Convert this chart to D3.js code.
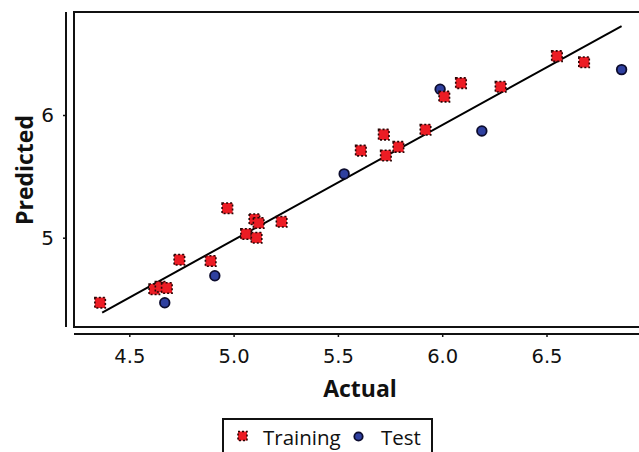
<!DOCTYPE html>
<html>
<head>
<meta charset="utf-8">
<script src="https://cdn.jsdelivr.net/npm/d3@7"></script>
<style>
  body { margin: 0; background: #fff; }
  svg { display: block; font-family: "DejaVu Sans", Verdana, sans-serif; }
</style>
</head>
<body>
<svg width="639" height="452"></svg>
<script>
// training set: actual vs predicted
var trainActual = [4.36, 4.62, 4.65, 4.68, 4.74, 4.89, 4.97, 5.06, 5.10, 5.12, 5.11, 5.23,
                   5.61, 5.72, 5.73, 5.79, 5.92, 6.01, 6.09, 6.28, 6.55, 6.68];
var trainPred   = [4.47, 4.58, 4.60, 4.59, 4.82, 4.81, 5.24, 5.03, 5.15, 5.12, 5.00, 5.13,
                   5.71, 5.84, 5.67, 5.74, 5.88, 6.15, 6.26, 6.23, 6.48, 6.43];
// test set
var testActual = [4.67, 4.91, 5.53, 5.99, 6.19, 6.86];
var testPred   = [4.47, 4.69, 5.52, 6.21, 5.87, 6.37];
// fitted line ends
var fitX = [4.37, 6.86];
var fitY = [4.39, 6.725];

var xTicks = [4.5, 5.0, 5.5, 6.0, 6.5];
var yTicks = [5, 6];
var legendItems = ["Training", "Test"];

var svg = d3.select("svg");

var frame = {left: 74, top: 12, right: 700, bottom: 327};

var x = d3.scaleLinear()
    .domain([5.5 - 263.9 / 208.6, 5.5 + (700 - 337.9) / 208.6])
    .range([frame.left, frame.right]);

var y = d3.scaleLinear()
    .domain([6 - (327 - 115) / 122.7, 6 + (115 - 12) / 122.7])
    .range([frame.bottom, frame.top]);

// plot frame
svg.append("rect")
    .attr("x", frame.left)
    .attr("y", frame.top)
    .attr("width", frame.right - frame.left)
    .attr("height", frame.bottom - frame.top)
    .attr("fill", "none")
    .attr("stroke", "#111")
    .attr("stroke-width", 2);

// detached axes
var xAxis = svg.append("g")
    .attr("transform", "translate(0,334)")
    .call(d3.axisBottom(x).tickValues(xTicks).tickFormat(d3.format(".1f")).tickSize(3).tickPadding(12));

var yAxis = svg.append("g")
    .attr("transform", "translate(66,0)")
    .call(d3.axisLeft(y).tickValues(yTicks).tickFormat(d3.format("d")).tickSize(3).tickPadding(9));

[xAxis, yAxis].forEach(function(g) {
    g.select(".domain").attr("stroke", "#111").attr("stroke-width", 2);
    g.selectAll(".tick line").attr("stroke", "#111").attr("stroke-width", 1.5);
    g.selectAll(".tick text")
        .attr("fill", "#111")
        .style("font-family", "DejaVu Sans, Verdana, sans-serif");
});
xAxis.selectAll(".tick text").style("font-size", "19.5px");
yAxis.selectAll(".tick text").style("font-size", "20px");
// y axis line spans frame height only, x axis starts at frame
yAxis.select(".domain").attr("d", "M0," + frame.top + "V" + frame.bottom);
xAxis.select(".domain").attr("d", "M" + frame.left + ",0H" + frame.right);

// axis titles
svg.append("text")
    .attr("x", 360)
    .attr("y", 397)
    .attr("text-anchor", "middle")
    .style("font-family", "'Open Sans', sans-serif")
    .style("font-size", "23px")
    .style("font-weight", "bold")
    .attr("fill", "#111")
    .text("Actual");

svg.append("text")
    .attr("transform", "translate(33,170)rotate(-90)")
    .attr("text-anchor", "middle")
    .style("font-family", "'Open Sans', sans-serif")
    .style("font-size", "23px")
    .style("font-weight", "bold")
    .attr("fill", "#111")
    .text("Predicted");

// regression line
svg.append("line")
    .attr("x1", x(fitX[0]))
    .attr("y1", y(fitY[0]))
    .attr("x2", x(fitX[1]))
    .attr("y2", y(fitY[1]))
    .attr("stroke", "#000")
    .attr("stroke-width", 2);

var sq = 10.5;

function drawSquare(sel) {
    sel.attr("width", sq)
        .attr("height", sq)
        .attr("fill", "#ec1c24")
        .attr("stroke", "#2a0505")
        .attr("stroke-width", 1.6)
        .attr("stroke-dasharray", "2,2");
}

function drawCircle(sel) {
    sel.attr("r", 4.8)
        .attr("fill", "#2f40a0")
        .attr("stroke", "#0c0c2e")
        .attr("stroke-width", 1.8);
}

// test points
svg.selectAll(".test")
    .data(testActual)
    .enter()
    .append("circle")
    .attr("class", "test")
    .attr("cx", function(d) { return x(d); })
    .attr("cy", function(d, i) { return y(testPred[i]); })
    .call(drawCircle);

// training points
svg.selectAll(".train")
    .data(trainActual)
    .enter()
    .append("rect")
    .attr("class", "train")
    .attr("x", function(d) { return x(d) - sq / 2; })
    .attr("y", function(d, i) { return y(trainPred[i]) - sq / 2; })
    .call(drawSquare);

// legend
var legend = svg.append("g");
legend.append("rect")
    .attr("x", 223)
    .attr("y", 419)
    .attr("width", 209)
    .attr("height", 60)
    .attr("fill", "none")
    .attr("stroke", "#111")
    .attr("stroke-width", 2);

legend.append("rect")
    .call(drawSquare)
    .attr("x", 238)
    .attr("y", 431.5)
    .attr("width", 9)
    .attr("height", 9);

legend.append("text")
    .attr("x", 263)
    .attr("y", 445)
    .style("font-family", "'Open Sans', sans-serif")
    .style("font-size", "20.5px")
    .attr("fill", "#111")
    .text(legendItems[0]);

legend.append("circle")
    .call(drawCircle)
    .attr("cx", 358.5)
    .attr("cy", 436.5)
    .attr("r", 4.2);

legend.append("text")
    .attr("x", 381)
    .attr("y", 445)
    .style("font-family", "'Open Sans', sans-serif")
    .style("font-size", "20.5px")
    .attr("fill", "#111")
    .text(legendItems[1]);
</script>
</body>
</html>
